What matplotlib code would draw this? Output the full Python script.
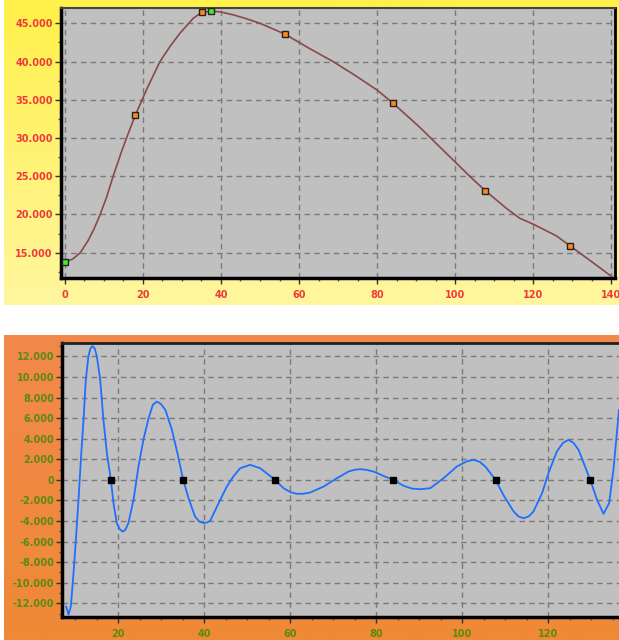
import numpy as np
import matplotlib
matplotlib.use("Agg")
import matplotlib.pyplot as plt
from matplotlib.ticker import MultipleLocator, FuncFormatter
from matplotlib.colors import LinearSegmentedColormap

# ---------------- data ----------------
top_x = [0, 2.0, 4.0, 6.0, 7.5, 9.0, 10.75, 12.4, 14.6, 15.9, 18.1, 21.2, 24.4, 27,
         29.5, 32.9, 35.1, 37.4, 39.8, 43.2, 46.5, 50.0, 56.5, 62, 68.7, 74, 79.9,
         84.1, 90.7, 96.9, 103.7, 107.7, 113.1, 116.5, 119.9, 125.9, 129.5, 135, 140]
top_y = [13830, 14150, 15000, 16600, 18100, 19900, 22300, 25000, 28300, 30100, 33000,
         36600, 40000, 42000, 43700, 45650, 46440, 46570, 46500, 46100, 45600, 45000,
         43560, 41900, 40000, 38300, 36300, 34540, 31500, 28400, 25000, 23100, 20800,
         19500, 18750, 17200, 15840, 13800, 11900]

top_orange_x = [18.1, 35.1, 56.5, 84.1, 107.7, 129.5]
top_orange_y = [33000, 46440, 43560, 34540, 23100, 15840]
top_green_x = [0, 37.4]
top_green_y = [13830, 46570]

bot_x = [7.84, 8.38, 8.92, 9.54, 10.09, 10.7, 11.25, 11.87, 12.4, 13.0, 13.5, 13.95,
         14.45, 14.97, 15.74, 16.5, 17.3, 18.23, 18.84, 19.6, 20.3, 21.0, 21.6, 22.3,
         23.5, 24.65, 25.8, 27.0, 28.0, 28.9, 29.8, 30.9, 32.4, 33.7, 35.05, 36.3,
         37.8, 38.8, 39.8, 40.5, 41.3, 43.65, 45.2, 46.7, 48.3, 50.6, 52.95, 54.9,
         56.4, 58.4, 60.0, 61.5, 63.0, 64.6, 67.7, 70.8, 73.5, 74.8, 76.2, 77.7, 79.3,
         82.0, 83.95, 86.3, 88.3, 90.2, 92.5, 95.6, 98.7, 101.0, 102.6, 104.0, 105.3,
         107.7, 109.5, 111.9, 113.0, 114.2, 115.4, 116.5, 118.5, 120.0, 121.95, 123.4,
         124.65, 125.8, 127.0, 128.5, 129.7, 131.3, 132.8, 134.1, 135.1, 135.9, 136.4]
bot_y = [-12320, -13100, -12300, -9080, -5840, -1950, 1950, 5840, 9730, 12000, 12800,
         13000, 12800, 12000, 9730, 5840, 2600, 0, -2270, -4200, -4800, -5030, -4850,
         -4200, -1950, 1300, 3900, 6000, 7300, 7600, 7400, 6800, 4900, 2600, 0, -1800,
         -3570, -4050, -4200, -4150, -4000, -1950, -650, 320, 1130, 1460, 1130, 490,
         0, -810, -1200, -1360, -1350, -1230, -650, 160, 810, 970, 1040, 970, 810,
         320, 0, -580, -850, -910, -810, 160, 1300, 1800, 1950, 1750, 1300,
         0, -1460, -3080, -3550, -3730, -3550, -3080, -1300, 650, 2760, 3600,
         3890, 3600, 2920, 1300, 0, -1950, -3300, -2270, 970, 4540, 6800]

bot_mark_x = [18.23, 35.05, 56.4, 83.95, 107.7, 129.7]
bot_mark_y = [0, 0, 0, 0, 0, 0]

# ---------------- figure ----------------
W, H = 619, 640
fig = plt.figure(figsize=(W / 100, H / 100), dpi=100)
fig.patch.set_facecolor("white")


def px_rect(x0, y0, x1, y1):
    return [x0 / W, 1 - y1 / H, (x1 - x0) / W, (y1 - y0) / H]


def gradient_panel(rect, c_top, c_bot):
    bg = fig.add_axes(rect, zorder=0)
    cmap = LinearSegmentedColormap.from_list("g", [c_top, c_bot])
    bg.imshow(np.linspace(0, 1, 256).reshape(-1, 1), aspect="auto", cmap=cmap,
              extent=[0, 1, 0, 1], origin="upper")
    bg.set_axis_off()


gradient_panel(px_rect(4, 0, 619, 305), "#fff04a", "#fff69e")
gradient_panel(px_rect(4, 335, 619, 640), "#f2884c", "#ef8a36")


def dot_fmt(v, pos):
    return f"{int(round(v)):,}".replace(",", ".")


def style_axes(ax, label_color):
    ax.set_facecolor("#c0c0c0")
    ax.grid(True, which="major", color="#7a7a7a", linestyle=(0, (4, 3)), linewidth=1.0)
    ax.set_axisbelow(True)
    ax.tick_params(which="major", direction="out", length=4, width=1, color="#333333",
                   labelsize=7, labelcolor=label_color)
    ax.tick_params(which="minor", direction="out", length=2.5, width=1, color="#555555")
    ax.tick_params(axis="y", pad=2)
    ax.tick_params(axis="x", pad=5)
    for lab in ax.get_xticklabels() + ax.get_yticklabels():
        lab.set_fontweight("bold")
    ax.yaxis.set_major_formatter(FuncFormatter(dot_fmt))


# ---------------- top chart ----------------
ax1 = fig.add_axes(px_rect(61, 8, 615, 278), zorder=2)
ax1.plot(top_x, top_y, color="#8b4848", linewidth=1.2, zorder=3)
ax1.plot(top_orange_x, top_orange_y, linestyle="none", marker="s", markersize=4.5,
         markerfacecolor="#ff8a1c", markeredgecolor="#222222", markeredgewidth=1, zorder=4)
ax1.plot(top_green_x, top_green_y, linestyle="none", marker="s", markersize=4.5,
         markerfacecolor="#44ee22", markeredgecolor="#222222", markeredgewidth=1, zorder=4)
ax1.set_xlim(-0.95, 140.9)
ax1.set_ylim(11690, 47000)
ax1.xaxis.set_major_locator(MultipleLocator(20))
ax1.xaxis.set_minor_locator(MultipleLocator(5))
ax1.yaxis.set_major_locator(MultipleLocator(5000))
ax1.yaxis.set_minor_locator(MultipleLocator(2500))
style_axes(ax1, "#f03a3a")
for s, w, c in [("left", 2.5, "black"), ("bottom", 2.5, "black"),
                ("right", 2.0, "black"), ("top", 1.5, "#444444")]:
    ax1.spines[s].set_linewidth(w)
    ax1.spines[s].set_color(c)

# ---------------- bottom chart ----------------
ax2 = fig.add_axes(px_rect(62.5, 343, 619, 616.7), zorder=2)
ax2.plot(bot_x, bot_y, color="#1f6fff", linewidth=1.3, zorder=3)
ax2.plot(bot_mark_x, bot_mark_y, linestyle="none", marker="s", markersize=4.5,
         markerfacecolor="black", markeredgecolor="black", zorder=4)
ax2.set_xlim(6.98, 136.4)
ax2.set_ylim(-13300, 13300)
ax2.xaxis.set_major_locator(MultipleLocator(20))
ax2.xaxis.set_minor_locator(MultipleLocator(5))
ax2.yaxis.set_major_locator(MultipleLocator(2000))
ax2.yaxis.set_minor_locator(MultipleLocator(1000))
style_axes(ax2, "#5a8a12")
for s, w, c in [("left", 2.5, "black"), ("bottom", 2.5, "black"),
                ("top", 2.0, "#222222")]:
    ax2.spines[s].set_linewidth(w)
    ax2.spines[s].set_color(c)
ax2.spines["right"].set_visible(False)

fig.savefig("out.png", dpi=100)
